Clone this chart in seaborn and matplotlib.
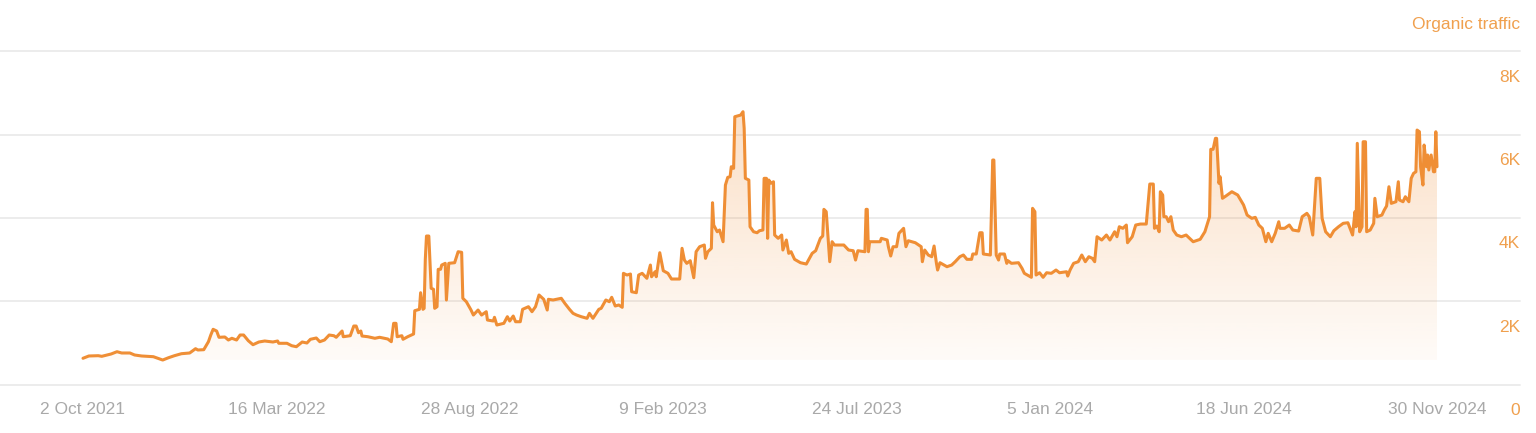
import numpy as np
import pandas as pd
import matplotlib
matplotlib.use("Agg")
import matplotlib.pyplot as plt
import matplotlib.dates as mdates
from matplotlib.transforms import ScaledTranslation
import seaborn as sns

# ---------------- data ----------------
start_date = "2021-10-02"
series_name = "Organic traffic"

day_offsets = [
    0, 5, 13, 16, 24, 29, 33, 40, 44, 50, 60, 68, 73, 78, 84, 91, 96, 98, 103, 107,
    109, 111, 114, 116, 121, 124, 127, 131, 134, 137, 141, 145, 150, 155, 162, 166, 167, 174, 178, 182,
    187, 191, 194, 199, 202, 206, 210, 214, 216, 221, 222, 228, 231, 233, 235, 237, 238, 243, 249, 253,
    260, 263, 265, 267, 268, 272, 273, 277, 282,
    283, 287, 288, 290, 291, 292, 293, 295, 297, 299, 300, 302, 303, 305, 306, 309, 310, 312, 317, 320,
    323, 324, 327, 331, 333, 337, 340, 344, 345, 350, 351, 353, 359, 362, 364, 367, 369, 373, 375, 380,
    383, 386, 389, 393, 396, 397, 401, 408, 411, 415, 418, 421, 425, 430, 432, 435, 440, 442, 446, 449,
    451, 454, 457, 460, 461, 464, 467, 468, 472, 474,
    477, 481, 484, 485, 488, 489, 492, 495, 499, 502, 509, 511, 513, 515, 518, 521, 523, 526, 530, 531,
    533, 536, 537, 538, 541, 543, 546, 548, 550, 552, 553, 555, 556, 561, 563, 564, 565, 568, 569, 572,
    575, 577, 580, 581, 583, 584, 585, 587, 589, 590, 593, 596, 597, 600, 602, 604, 607, 612, 617,
    622, 625, 629, 631, 632, 634, 637, 639, 641, 649, 653, 657, 659, 661, 667, 668, 669, 670, 671, 680,
    681, 686, 687, 689, 691, 694, 696, 700, 702, 704, 710, 715, 716, 718, 721, 724, 726, 728, 729, 731,
    737, 741, 744, 748, 751, 754, 758, 759, 762, 765, 767, 768, 774, 776, 777, 779, 781, 782,
    786, 788, 789, 792, 798, 801, 803, 809, 810, 812, 813, 816, 819, 822, 826, 830, 833, 839, 840, 842,
    845, 849, 852, 855, 858, 861, 863, 865, 869, 873, 876, 880, 882, 884, 887, 890, 891, 895, 898, 902,
    907, 910, 913, 914, 916, 918, 919, 921, 922, 924, 926, 928, 930, 933, 937, 941, 947, 953, 957, 961,
    962, 964, 966, 967, 969, 970, 972, 975, 980, 985, 990, 993, 997, 1000, 1003, 1006, 1009, 1011, 1014, 1017,
    1020, 1021, 1025, 1029, 1032, 1037, 1040, 1044, 1046, 1049, 1052, 1055, 1057, 1060, 1064, 1067, 1071, 1075, 1079, 1083,
    1085, 1086, 1087, 1089, 1091, 1092, 1094, 1095, 1098, 1101, 1102, 1104, 1108, 1110, 1112, 1114, 1116, 1120, 1122, 1123,
    1126, 1128, 1131, 1133, 1135, 1137, 1138, 1140, 1141, 1143, 1144, 1146, 1147, 1148, 1150, 1152, 1153, 1154, 1155,
]

traffic = [
    630, 685, 692, 677, 733, 788, 757, 757, 709, 685, 668, 588, 644, 692, 740, 757, 860, 829, 836, 1028,
    1189, 1326, 1285, 1134, 1141, 1069, 1110, 1069, 1189, 1189, 1052, 956, 1021, 1045, 1021, 1045, 990, 990, 932, 908,
    1021, 997, 1086, 1117, 1028, 1069, 1189, 1172, 1134, 1285, 1148, 1172, 1405, 1405, 1244, 1285, 1165, 1148, 1110, 1134,
    1093, 1028, 1470, 1470, 1148, 1172, 1086, 1148, 1213,
    1773, 1806, 2205, 1806, 1830, 3007, 3567, 3567, 2311, 2287, 1830, 1869, 2767, 2767, 2870, 2911, 2030, 2911, 2926, 3190,
    3175, 2071, 1989, 1789, 1669, 1789, 1669, 1749, 1549, 1525, 1614, 1429, 1470, 1629, 1525, 1645, 1508, 1508, 1806, 1869,
    1749, 1869, 2150, 2047, 1789, 2047, 2030, 2071, 1950, 1806, 1710, 1669, 1629, 1590, 1710, 1590, 1806, 1830, 2030, 1989,
    2095, 1886, 1910, 1854, 2671, 2630, 2654, 2229, 2205, 2630,
    2671, 2551, 2870, 2589, 2709, 2589, 3166, 2733, 2671, 2534, 2534, 3272, 2990, 2911, 2974, 2565, 3190, 3310, 3351, 3031,
    3190, 3271, 4367, 3831, 3670, 3711, 3430, 4792, 4977, 4991, 5232, 5193, 6433, 6473, 6553, 6154, 4953, 4912, 3790, 3670,
    3646, 3694, 3711, 4953, 4953, 3512, 4912, 4833, 4871, 3591, 3512, 3591, 3231, 3471, 3151, 3190, 3007, 2926, 2894,
    3151, 3214, 3512, 3567, 4208, 4151, 2950, 3430, 3351, 3351, 3231, 3214, 2990, 3214, 3190, 4208, 4208, 3190, 3430, 3430,
    3512, 3471, 3310, 3087, 3310, 3310, 3632, 3752, 3310, 3454, 3406, 3310, 2950, 3231, 3111, 3070, 3327, 2911, 2750, 2926,
    2830, 2870, 2950, 3070, 3111, 3007, 3007, 3135, 3135, 3646, 3646, 3135, 3111, 5393, 5393, 3111, 2990, 3135,
    3135, 2911, 2974, 2911, 2926, 2791, 2671, 2575, 4232, 4151, 2630, 2685, 2575, 2685, 2671, 2750, 2685, 2709, 2606, 2750,
    2911, 2950, 3111, 2950, 3070, 3031, 2950, 3550, 3471, 3591, 3471, 3670, 3550, 3790, 3752, 3831, 3406, 3550, 3831, 3855,
    3855, 4816, 4816, 3752, 3807, 3670, 4631, 4552, 4031, 4031, 3911, 4031, 3711, 3591, 3550, 3591, 3430, 3488, 3670, 4031,
    5650, 5650, 5914, 5914, 4833, 4991, 4473, 4530, 4631, 4552, 4312, 4071, 3992, 4016, 3831, 3752, 3430, 3632, 3430, 3632,
    3910, 3752, 3752, 3831, 3711, 3687, 4031, 4112, 4031, 3591, 4953, 4953, 3992, 3670, 3550, 3694, 3790, 3872, 3886, 3591,
    4151, 3790, 5794, 3670, 3790, 5832, 5832, 3670, 3711, 3872, 4473, 4031, 4071, 4191, 4288, 4751, 4352, 4391, 4871, 4432,
    4391, 4511, 4391, 4953, 5073, 5111, 6113, 6072, 5231, 4792, 5753, 5231, 5513, 5153, 5513, 5111, 5111, 6072, 5231,
]

tick_dates = ["2021-10-02", "2022-03-16", "2022-08-28", "2023-02-09",
              "2023-07-24", "2024-01-05", "2024-06-18", "2024-11-30"]
tick_labels = ["2 Oct 2021", "16 Mar 2022", "28 Aug 2022", "9 Feb 2023",
               "24 Jul 2023", "5 Jan 2024", "18 Jun 2024", "30 Nov 2024"]
y_ticks = [0, 2000, 4000, 6000, 8000]
y_tick_labels = ["0", "2K", "4K", "6K", "8K"]

# ---------------- style ----------------
LINE_COLOR = "#ef8e35"
LABEL_ORANGE = "#f0a04e"
GRAY_TEXT = "#a9a9a9"
GRID_COLOR = "#ececec"

sns.set_theme(style="white")
plt.rcParams["font.family"] = ["Liberation Sans", "DejaVu Sans"]

start = pd.Timestamp(start_date)
dates = start + pd.to_timedelta(day_offsets, unit="D")
df = pd.DataFrame({"date": dates, "traffic": traffic})

W, H = 1536, 433
fig = plt.figure(figsize=(W / 100, H / 100), dpi=100)
fig.patch.set_facecolor("white")
ax = fig.add_axes([0, 1 - 384.5 / H, 1520 / W, (384.5 - 51.5) / H])

sns.lineplot(data=df, x="date", y="traffic", ax=ax, color=LINE_COLOR,
             linewidth=2.2, zorder=3, estimator=None)
for ln in ax.get_lines():
    ln.set_solid_joinstyle("round")

# gradient area under the line
base = min(traffic)
top = max(traffic)
poly = ax.fill_between(df["date"], df["traffic"], base,
                       facecolor="none", edgecolor="none")
x0 = mdates.date2num(df["date"].iloc[0])
x1 = mdates.date2num(df["date"].iloc[-1])
n = 256
frac = np.linspace(0, 1, n)[:, None]
rgba = np.zeros((n, 1, 4))
rgba[..., 0] = 240 / 255
rgba[..., 1] = 140 / 255
rgba[..., 2] = 50 / 255
rgba[..., 3] = 0.035 + 0.24 * frac
im = ax.imshow(rgba, extent=[x0, x1, base, top], origin="lower",
               aspect="auto", zorder=1, interpolation="bilinear")
im.set_clip_path(poly.get_paths()[0], transform=ax.transData)

# limits
ax.set_xlim(start - pd.Timedelta(days=70.8), start + pd.Timedelta(days=1225.8))
ax.set_ylim(0, 8000)

# grid / spines
for s in ax.spines.values():
    s.set_visible(False)
ax.grid(False)
ax.yaxis.grid(True, color=GRID_COLOR, linewidth=1.4)
ax.set_axisbelow(True)
ax.set_xlabel("")
ax.set_ylabel("")

# x ticks
ax.set_xticks(pd.to_datetime(tick_dates))
ax.set_xticklabels(tick_labels)
ax.tick_params(axis="x", length=0, pad=12.5, labelsize=12.5, labelcolor=GRAY_TEXT)

# y ticks (right, right-aligned, below gridline)
ax.yaxis.tick_right()
ax.set_yticks(y_ticks)
ax.set_yticklabels(y_tick_labels, ha="right")
ax.tick_params(axis="y", length=0, pad=0, labelsize=12.5, labelcolor=LABEL_ORANGE)
offset = ScaledTranslation(0, -24.5 / 100, fig.dpi_scale_trans)
for lbl in ax.get_yticklabels():
    lbl.set_horizontalalignment("right")
    lbl.set_transform(lbl.get_transform() + offset)

for gl in ax.yaxis.get_gridlines():
    gl.set_clip_on(False)

fig.text(1520 / W, 1 - 25 / H, series_name, ha="right", va="center",
         fontsize=12.5, color=LABEL_ORANGE)

fig.savefig("out.png", dpi=100, facecolor="white")
